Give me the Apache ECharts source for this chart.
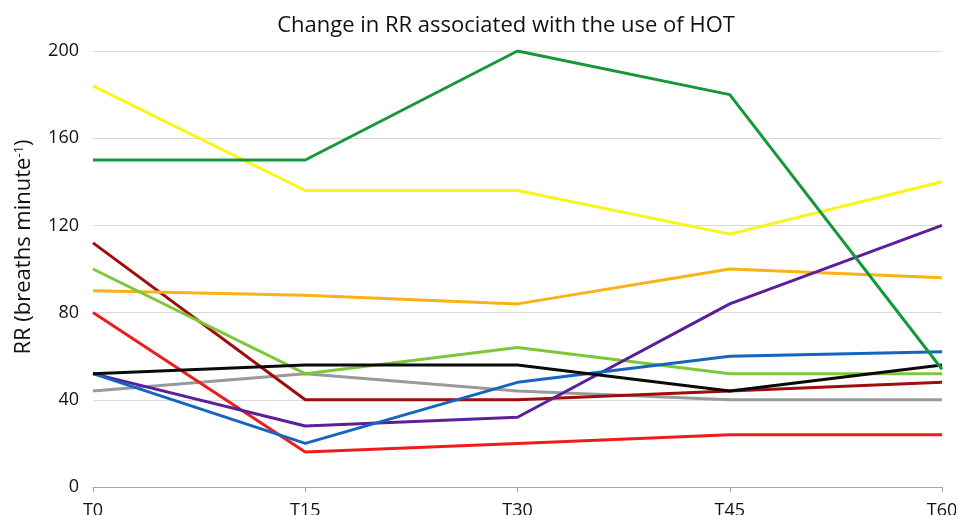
<!DOCTYPE html>
<html lang="en">
<head>
    <meta charset="UTF-8">
    <title>RR and HOT</title>
    <script src="https://cdn.jsdelivr.net/npm/echarts@6/dist/echarts.min.js"></script>
    <style>
        html, body { margin: 0; padding: 0; background: #fff; }
    </style>
</head>
<body>
    <div id="main" style="width: 956px;height:515px;"></div>
    <script type="text/javascript">
        // time points
        var times = ['T0', 'T15', 'T30', 'T45', 'T60'];

        // RR per patient
        var darkGreen   = [150, 150, 200, 180, 54];
        var yellow      = [184, 136, 136, 116, 140];
        var darkRed     = [112, 40, 40, 44, 48];
        var lightGreen  = [100, 52, 64, 52, 52];
        var orange      = [90, 88, 84, 100, 96];
        var red         = [80, 16, 20, 24, 24];
        var gray        = [44, 52, 44, 40, 40];
        var purple      = [52, 28, 32, 84, 120];
        var blue        = [52, 20, 48, 60, 62];
        var black       = [52, 56, 56, 44, 56];

        var yTicks = [0, 40, 80, 120, 160, 200];

        var lines = [
            { data: gray, color: '#9a9a9a' },
            { data: red, color: '#ee1c1c' },
            { data: darkRed, color: '#a00d0d' },
            { data: orange, color: '#fbb216' },
            { data: lightGreen, color: '#7dc83a' },
            { data: purple, color: '#5b1f99' },
            { data: blue, color: '#1565c0' },
            { data: yellow, color: '#f9f514' },
            { data: black, color: '#0a0a0a' },
            { data: darkGreen, color: '#15983a' }
        ];

        var myChart = echarts.init(document.getElementById('main'));

        var option = {
            animation: false,
            title: {
                text: 'Change in RR associated with the use of HOT',
                left: 501,
                top: 10,
                textAlign: 'center',
                textStyle: {
                    fontFamily: 'Open Sans',
                    fontWeight: 'normal',
                    fontSize: 22,
                    color: '#111'
                }
            },
            grid: { left: 93, right: 14, top: 51, bottom: 28, containLabel: false, outerBoundsMode: 'none' },
            xAxis: {
                type: 'category',
                data: times,
                boundaryGap: false,
                axisLine: { lineStyle: { color: '#a6a6a6', width: 1 } },
                axisTick: { show: true, alignWithLabel: true, length: 5, lineStyle: { color: '#a6a6a6' } },
                axisLabel: { fontFamily: 'Open Sans', fontSize: 18, color: '#111', margin: 15 }
            },
            yAxis: {
                type: 'value',
                min: yTicks[0],
                max: yTicks[yTicks.length - 1],
                interval: 40,
                axisLine: { show: false },
                axisTick: { show: false },
                splitLine: { lineStyle: { color: '#d9d9d9', width: 1 } },
                axisLabel: { fontFamily: 'Open Sans', fontSize: 18, color: '#111', margin: 14 },
                name: '{n|RR (breaths minute}{s|-1}{n|)}',
                nameLocation: 'middle',
                nameRotate: 90,
                nameGap: 58,
                nameTextStyle: {
                    padding: [0, 0, 0, 44],
                    rich: {
                        n: { fontFamily: 'Open Sans', fontSize: 22, color: '#111' },
                        s: { fontFamily: 'Open Sans', fontSize: 13, color: '#111', verticalAlign: 'top', padding: [0, 0, 8, 0] }
                    }
                }
            },
            series: lines.map(function (l) {
                return {
                    type: 'line',
                    data: l.data,
                    symbol: 'none',
                    lineStyle: { color: l.color, width: 3 },
                    itemStyle: { color: l.color }
                };
            })
        };

        myChart.setOption(option);
    </script>
</body>
</html>
